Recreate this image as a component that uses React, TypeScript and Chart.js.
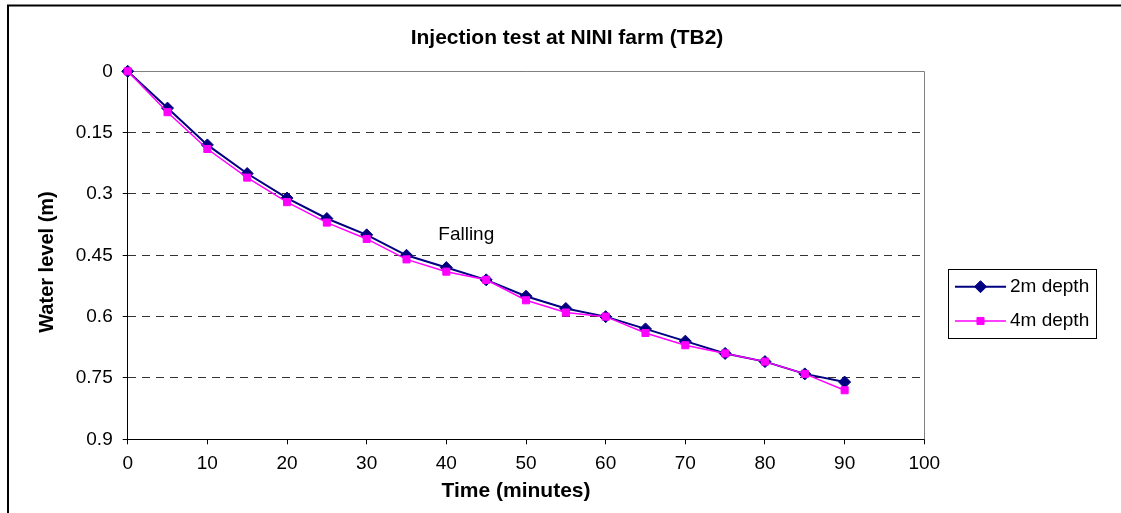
import { useEffect, useRef } from "react";
import { Chart, registerables } from "chart.js";

Chart.register(...registerables);

// Elapsed time of each reading (minutes)
const minutes = [0, 5, 10, 15, 20, 25, 30, 35, 40, 45, 50, 55, 60, 65, 70, 75, 80, 85, 90];
// Water level below the reference (m) at each depth
const depth2m = [0, 0.09, 0.18, 0.25, 0.31, 0.36, 0.4, 0.45, 0.48, 0.51, 0.55, 0.58, 0.6, 0.63, 0.66, 0.69, 0.71, 0.74, 0.76];
const depth4m = [0, 0.1, 0.19, 0.26, 0.32, 0.37, 0.41, 0.46, 0.49, 0.51, 0.56, 0.59, 0.6, 0.64, 0.67, 0.69, 0.71, 0.74, 0.78];

const yTickValues = [0, 0.15, 0.3, 0.45, 0.6, 0.75, 0.9];
const seriesNames = ["2m depth", "4m depth"];
const chartTitle = "Injection test at NINI farm (TB2)";
const xAxisTitle = "Time (minutes)";
const yAxisTitle = "Water level (m)";
const noteText = "Falling";
const notePosition = { x: 42.5, y: 0.4 };

const FONT = "Arial, 'Liberation Sans', sans-serif";
const W = 1121;
const H = 513;

function drawMarker(ctx: CanvasRenderingContext2D, style: string, x: number, y: number, r: number) {
  ctx.beginPath();
  if (style === "rectRot") {
    ctx.moveTo(x - r, y);
    ctx.lineTo(x, y - r);
    ctx.lineTo(x + r, y);
    ctx.lineTo(x, y + r);
    ctx.closePath();
  } else {
    const s = Math.SQRT1_2 * r;
    ctx.rect(x - s, y - s, 2 * s, 2 * s);
  }
  ctx.fill();
  ctx.stroke();
}

const decorations = {
  id: "decorations",
  beforeDraw(chart: any) {
    const ctx: CanvasRenderingContext2D = chart.ctx;
    ctx.save();
    // outer frame
    ctx.strokeStyle = "#000";
    ctx.lineWidth = 2;
    ctx.beginPath();
    ctx.moveTo(8, H + 5);
    ctx.lineTo(8, 5.5);
    ctx.lineTo(W + 5, 5.5);
    ctx.stroke();
    // chart title
    ctx.fillStyle = "#000";
    ctx.font = `bold 21px ${FONT}`;
    ctx.textAlign = "center";
    ctx.textBaseline = "middle";
    ctx.fillText(chartTitle, 567, 38);
    // axis titles
    ctx.font = `bold 21px ${FONT}`;
    ctx.fillText(xAxisTitle, 516, 491);
    ctx.translate(47, 262);
    ctx.rotate(-Math.PI / 2);
    ctx.font = `bold 20px ${FONT}`;
    ctx.fillText(yAxisTitle, 0, 0);
    ctx.restore();
  },
  beforeDatasetsDraw(chart: any) {
    const ctx: CanvasRenderingContext2D = chart.ctx;
    const { left, top, right, bottom } = chart.chartArea;
    ctx.save();
    ctx.strokeStyle = "#808080";
    ctx.lineWidth = 1;
    ctx.beginPath();
    ctx.moveTo(left, Math.round(top) + 0.5);
    ctx.lineTo(Math.round(right) + 0.5, Math.round(top) + 0.5);
    ctx.lineTo(Math.round(right) + 0.5, bottom);
    ctx.stroke();
    ctx.restore();
  },
  afterDraw(chart: any) {
    const ctx: CanvasRenderingContext2D = chart.ctx;
    ctx.save();
    // annotation inside the plot
    const nx = chart.scales.x.getPixelForValue(notePosition.x);
    const ny = chart.scales.y.getPixelForValue(notePosition.y);
    ctx.fillStyle = "#000";
    ctx.font = `19px ${FONT}`;
    ctx.textAlign = "center";
    ctx.textBaseline = "middle";
    ctx.fillText(noteText, nx, ny);

    // legend box
    ctx.strokeStyle = "#000";
    ctx.lineWidth = 1;
    ctx.strokeRect(948.5, 269.5, 148, 69);
    const rows = [286.7, 321];
    [0, 1].forEach((i) => {
      const ds = chart.data.datasets[i];
      const y = rows[i];
      ctx.strokeStyle = ds.borderColor;
      ctx.lineWidth = ds.borderWidth;
      ctx.beginPath();
      ctx.moveTo(955, y);
      ctx.lineTo(1006, y);
      ctx.stroke();
      ctx.fillStyle = ds.pointBackgroundColor;
      ctx.strokeStyle = ds.pointBorderColor;
      ctx.lineWidth = 1;
      drawMarker(ctx, ds.pointStyle, 980.5, y, ds.pointRadius);
      ctx.fillStyle = "#000";
      ctx.font = `19px ${FONT}`;
      ctx.textAlign = "left";
      ctx.textBaseline = "middle";
      ctx.fillText(ds.label, 1010, y);
    });
    ctx.restore();
  },
};

export default function App() {
  const canvasRef = useRef<HTMLCanvasElement>(null);

  useEffect(() => {
    document.body.style.margin = "0";
    const canvas = canvasRef.current;
    if (!canvas) return;

    const chart = new Chart(canvas, {
      type: "line",
      data: {
        datasets: [
          {
            label: seriesNames[0],
            data: minutes.map((t, i) => ({ x: t, y: depth2m[i] })),
            borderColor: "#000080",
            backgroundColor: "#000080",
            borderWidth: 2,
            pointStyle: "rectRot",
            pointRadius: 6,
            pointBackgroundColor: "#000080",
            pointBorderColor: "#000080",
            pointBorderWidth: 1,
            tension: 0,
            clip: false,
            order: 1,
          },
          {
            label: seriesNames[1],
            data: minutes.map((t, i) => ({ x: t, y: depth4m[i] })),
            borderColor: "#FF00FF",
            backgroundColor: "#FF00FF",
            borderWidth: 1.5,
            pointStyle: "rect",
            pointRadius: 5,
            pointBackgroundColor: "#FF00FF",
            pointBorderColor: "#FF00FF",
            pointBorderWidth: 1,
            tension: 0,
            clip: false,
            order: 0,
          },
        ],
      } as any,
      options: {
        responsive: false,
        devicePixelRatio: 1,
        animation: false,
        layout: { padding: { top: 71.3, right: W - 924.3, bottom: 0, left: 0 } },
        plugins: {
          legend: { display: false },
          title: { display: false },
          tooltip: { enabled: false },
        },
        scales: {
          x: {
            type: "linear",
            min: 0,
            max: 100,
            ticks: {
              stepSize: 10,
              color: "#000",
              font: { family: FONT, size: 19 },
              padding: 8,
              maxRotation: 0,
            },
            grid: { drawOnChartArea: false, tickLength: 5, color: "#000", tickColor: "#000" },
            border: { color: "#000", width: 1 },
            afterFit(scale: any) {
              scale.height = H - 439.3;
            },
          },
          y: {
            type: "linear",
            reverse: true,
            min: 0,
            max: 0.9,
            afterBuildTicks(scale: any) {
              scale.ticks = yTickValues.map((v) => ({ value: v }));
            },
            ticks: {
              color: "#000",
              font: { family: FONT, size: 19 },
              padding: 10,
              callback: (v: any) => String(Number(v)),
            },
            grid: {
              tickLength: 5,
              tickColor: "#000",
              lineWidth: 1,
              color: (c: any) =>
                c.tick && (c.tick.value === 0 || c.tick.value === 0.9) ? "rgba(0,0,0,0)" : "#333333",
            },
            border: { color: "#000", width: 1, dash: [8, 6] },
            afterFit(scale: any) {
              scale.width = 127.7;
            },
          },
        },
      } as any,
      plugins: [decorations],
    });

    return () => chart.destroy();
  }, []);

  return (
    <div style={{ width: W, height: H }}>
      <canvas ref={canvasRef} width={W} height={H} style={{ display: "block" }} />
    </div>
  );
}
